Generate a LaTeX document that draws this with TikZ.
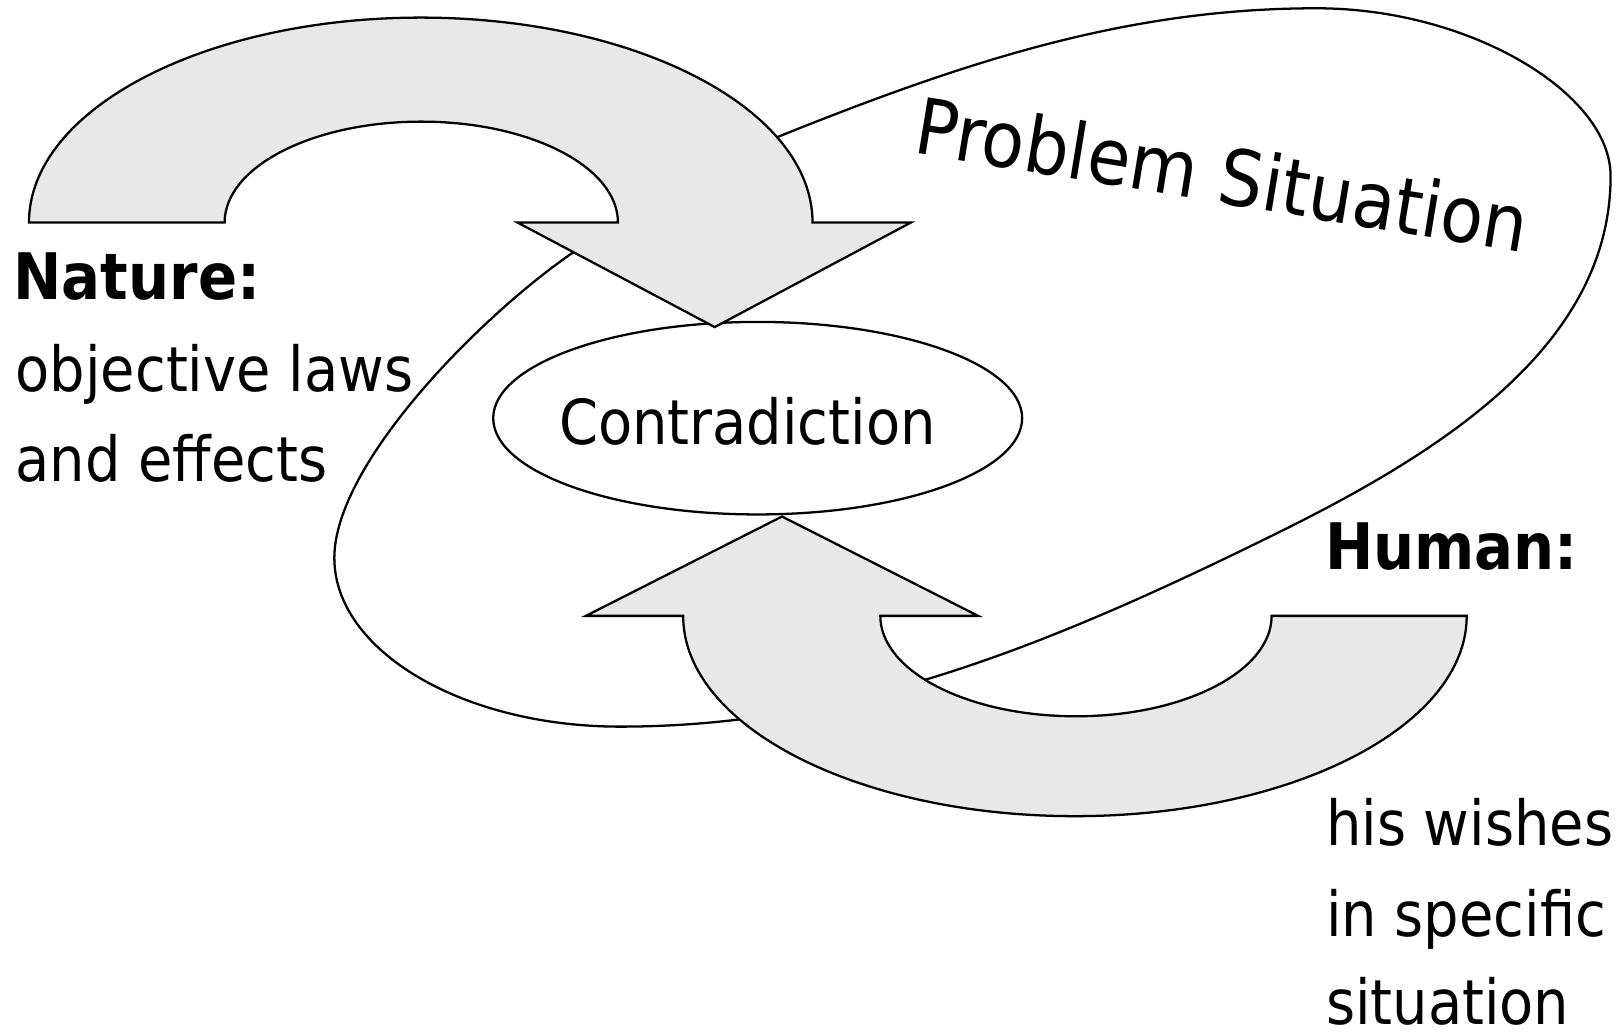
\documentclass[tikz,border=0pt]{standalone}
\usepackage{fontspec}
\setmainfont{DejaVu Sans Condensed}
\usetikzlibrary{shapes.geometric}
\definecolor{arrowgray}{RGB}{232,232,232}
\begin{document}
\begin{tikzpicture}[x=1pt,y=-1pt,
  outline/.style={draw=black, line width=2.2pt, line join=miter},
  bigarrow/.style={outline, fill=arrowgray},
  lbl/.style={anchor=base west, inner sep=0pt, font=\fontsize{60}{70}\selectfont},
  lblb/.style={lbl, font=\fontsize{62}{70}\selectfont\bfseries}]
\useasboundingbox (0,0) rectangle (1568,999);
% Problem situation loop
\draw[outline] (1272,8) .. controls (1420,8) and (1556,90) .. (1556,170)
  .. controls (1556,330) and (1401,432) .. (1240,512)
  .. controls (1007,627.4) and (819,702) .. (599,702)
  .. controls (447,702) and (323,628.7) .. (323,539)
  .. controls (323,449) and (461.6,307.7) .. (552,245)
  .. controls (617.8,199.4) and (677.8,161.8) .. (752,132)
  .. controls (937.6,57.4) and (1092,8) .. cycle;
% Contradiction ellipse
\node[ellipse, draw, line width=2.2pt, fill=white, minimum width=511, minimum height=186, inner sep=0] (contraShape) at (732,404) {};
% Nature arrow
\draw[bigarrow] (28,215) arc[start angle=180, end angle=360, x radius=378.5, y radius=198]
  -- (880,215) -- (690.5,316) -- (500,215) -- (597,215)
  arc[start angle=0, end angle=-180, x radius=190, y radius=97.5] -- cycle;
% Human arrow
\draw[bigarrow] (660,595) arc[start angle=180, end angle=0, x radius=378.5, y radius=193.5]
  -- (1228.5,595) arc[start angle=0, end angle=180, x radius=189, y radius=97]
  -- (945,595) -- (755.5,499) -- (566,595) -- cycle;
% Texts
\node[lblb] (nature) at (13,289) {Nature:};
\node[lbl] (natA) at (15,378) {objective laws};
\node[lbl] (natB) at (15,465) {and effects};
\node[lbl] (contra) at (540,429) {Contradiction};
\node[lbl, rotate=-9.3, font=\fontsize{75}{80}\selectfont] (problem) at (881,147.5) {Problem Situation};
\node[lblb] (human) at (1280,550) {Human:};
\node[lbl] (humA) at (1281,817) {his wishes};
\node[lbl] (humB) at (1281,905) {in specific};
\node[lbl] (humC) at (1281,990) {situation};
\end{tikzpicture}
\end{document}
